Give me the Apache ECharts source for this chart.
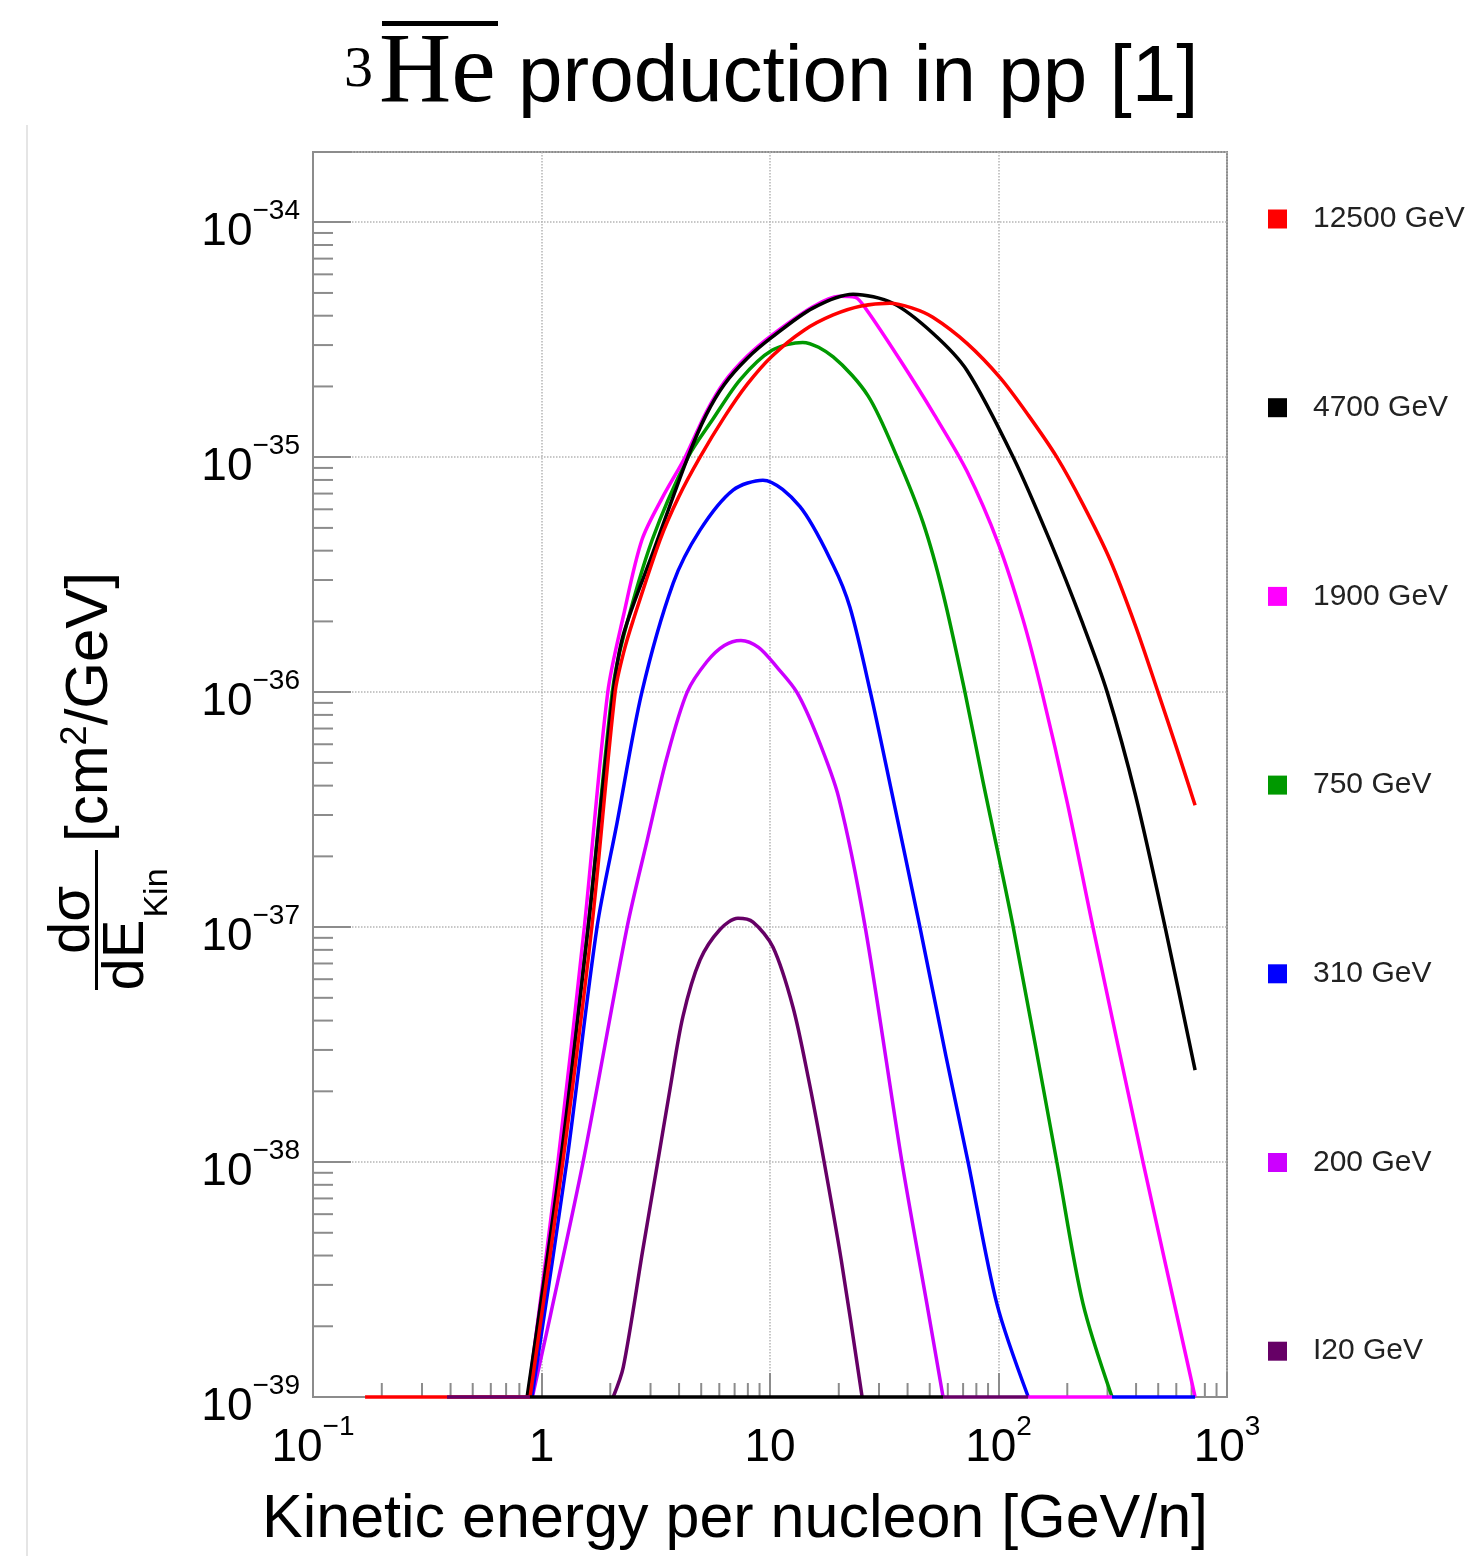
<!DOCTYPE html>
<html lang="en">
  <head>
    <meta charset="UTF-8" />
    <title>3He production in pp</title>
    <script src="https://cdn.jsdelivr.net/npm/echarts@6/dist/echarts.min.js"></script>
  </head>
  <body style="margin: 0">
    <div id="main" style="width: 1472px; height: 1556px"></div>
    <script type="text/javascript">
      // legend entries, top to bottom, and their colours
      const energies = ["12500 GeV", "4700 GeV", "1900 GeV", "750 GeV", "310 GeV", "200 GeV", "I20 GeV"];
      const colors = ["#ff0000", "#000000", "#ff00ff", "#009900", "#0000ff", "#cc00ff", "#660066"];

      // axis decades (exponents of ten)
      const xTickExps = [-1, 0, 1, 2, 3];
      const yTickExps = [-39, -38, -37, -36, -35, -34];
      const yMax = 1.99e-34;

      // [kinetic energy per nucleon (GeV/n), dσ/dE_kin (cm²/GeV)]
      const s12500 = [[0.891, 1e-39], [1.24, 1e-38], [1.66, 1e-37], [2.1, 1e-36], [2.29, 1.48e-36], [2.51, 2.0e-36], [3.3, 4.44e-36], [3.98, 6.76e-36], [4.94, 1e-35], [6.31, 1.48e-35], [7.94, 2.04e-35], [10.2, 2.69e-35], [14.1, 3.47e-35], [18.9, 4.03e-35], [25.1, 4.4e-35], [33.5, 4.52e-35], [41.7, 4.32e-35], [51.6, 3.94e-35], [72.8, 3.05e-35], [102, 2.17e-35], [135, 1.51e-35], [180, 1e-35], [234, 6.31e-36], [308, 3.65e-36], [398, 1.91e-36], [499, 1e-36], [603, 5.75e-37], [725, 3.3e-37]];
      const s4700 = [[0.865, 1e-39], [1.21, 1e-38], [1.6, 1e-37], [2.06, 1e-36], [2.29, 1.78e-36], [3.09, 3.98e-36], [4.37, 1e-35], [5.25, 1.51e-35], [6.31, 2.04e-35], [7.94, 2.63e-35], [10.2, 3.24e-35], [15.4, 4.31e-35], [23.1, 4.94e-35], [34.5, 4.52e-35], [51.6, 3.37e-35], [72.8, 2.34e-35], [116, 1e-35], [168, 4.4e-36], [234, 1.95e-36], [299, 1e-36], [398, 3.63e-37], [536, 1e-37], [725, 2.46e-38]];
      const s1900 = [[0.873, 1e-39], [1.18, 1e-38], [1.54, 1e-37], [1.95, 1e-36], [2.29, 2.14e-36], [2.75, 4.44e-36], [3.39, 6.76e-36], [4.25, 1e-35], [5.25, 1.55e-35], [6.31, 2.09e-35], [7.94, 2.69e-35], [10.2, 3.31e-35], [15.4, 4.37e-35], [20, 4.84e-35], [23.6, 4.79e-35], [26.5, 4.23e-35], [37.1, 2.59e-35], [52.5, 1.51e-35], [72.8, 8.71e-36], [100, 4.27e-36], [128, 2.04e-36], [155, 1e-36], [200, 3.39e-37], [259, 1e-37], [429, 1e-38], [725, 1e-39]];
      const s750 = [[0.873, 1e-39], [1.2, 1e-38], [1.6, 1e-37], [2.04, 1e-36], [2.29, 1.74e-36], [3.05, 4.44e-36], [4.38, 1e-35], [5.62, 1.45e-35], [7.41, 2.14e-35], [10.2, 2.85e-35], [13.9, 3.08e-35], [18.9, 2.67e-35], [26.9, 1.82e-35], [36, 1e-35], [46.8, 5.25e-36], [57.2, 2.63e-36], [71.3, 1e-36], [85.5, 4.17e-37], [116, 1e-37], [180, 1e-38], [234, 2.51e-39], [314, 1e-39]];
      const s310 = [[0.908, 1e-39], [1.29, 1e-38], [1.75, 1e-37], [2.14, 2.77e-37], [2.75, 1e-36], [3.77, 2.91e-36], [4.94, 4.89e-36], [6.89, 7.24e-36], [9.31, 7.98e-36], [13.5, 6.17e-36], [18.9, 3.47e-36], [22.4, 2.29e-36], [27.5, 1e-36], [33.5, 4.07e-37], [45.3, 1e-37], [58.9, 2.82e-38], [73.6, 1e-38], [98.4, 2.49e-39], [135, 1e-39]];
      const s200 = [[0.912, 1e-39], [1.09, 2.19e-39], [1.52, 1e-38], [2.37, 1e-37], [2.9, 2.34e-37], [3.54, 5.28e-37], [4.34, 1e-36], [5.3, 1.35e-36], [6.31, 1.58e-36], [7.46, 1.66e-36], [8.91, 1.55e-36], [10.7, 1.28e-36], [13.1, 1e-36], [16.1, 6.46e-37], [20, 3.55e-37], [26.1, 1e-37], [37.8, 1e-38], [48.6, 2.49e-39], [57.2, 1e-39]];
      const s120 = [[2.06, 1e-39], [2.28, 1.34e-39], [2.78, 4.27e-39], [3.2, 9.55e-39], [3.65, 2.04e-38], [4.16, 4.17e-38], [4.94, 7.24e-38], [6.04, 9.77e-38], [7.24, 1.09e-37], [8.43, 1.05e-37], [10.3, 8.22e-38], [12.6, 4.57e-38], [14.7, 2.29e-38], [16.9, 1.12e-38], [20.5, 3.83e-39], [25.3, 1e-39]];
      const curves = [s12500, s4700, s1900, s750, s310, s200, s120];

      // pieces of the histograms lying on the lower frame edge
      const floorRed = [[0.169, 1e-39], [0.891, 1e-39]];
      const floorPurpleLow = [[0.386, 1e-39], [0.89, 1e-39]];
      const floorBlack = [[0.89, 1e-39], [57.2, 1e-39]];
      const floorPurpleHigh = [[57.2, 1e-39], [135, 1e-39]];
      const floorMagenta = [[135, 1e-39], [314, 1e-39]];
      const floorBlue = [[314, 1e-39], [725, 1e-39]];

      // the log axis rounds tiny numbers to zero, so plot in units of 1e-36 cm²/GeV
      const unit = 1e-36;
      const unitExp = -36;
      const toUnit = (d) => d.map((p) => [p[0], p[1] / unit]);

      let myChart = echarts.init(document.getElementById("main"));

      const sans = "Liberation Sans";
      const serif = "Liberation Serif";

      function powLabel(v, shift) {
        const l = Math.log10(v);
        const e0 = Math.round(l);
        if (Math.abs(l - e0) > 0.01) return "";
        const e = e0 + shift;
        if (e === 0) return "{b|1}{s|\u200b}";
        if (e === 1) return "{b|10}{s|\u200b}";
        return "{b|10}{s|" + (e < 0 ? "\u2212" + -e : e) + "}";
      }
      const powRich = {
        b: { fontSize: 46, fontFamily: sans, color: "#000", lineHeight: 46, verticalAlign: "bottom" },
        s: { fontSize: 28, fontFamily: sans, color: "#000", lineHeight: 28, verticalAlign: "bottom", padding: [0, 0, 30, 0] },
      };

      const order = [6, 5, 4, 3, 2, 1, 0];
      let series = order.map((i) => ({
        name: energies[i],
        type: "line",
        data: toUnit(curves[i]),
        color: colors[i],
        showSymbol: false,
        symbol: "none",
        smooth: 0.3,
        clip: false,
        lineStyle: { width: 3.5, color: colors[i] },
      }));
      const floors = [
        [floorRed, "#ff0000"],
        [floorPurpleLow, "#660066"],
        [floorBlack, "#000000"],
        [floorPurpleHigh, "#660066"],
        [floorMagenta, "#ff00ff"],
        [floorBlue, "#0000ff"],
      ];
      floors.forEach(([d, c], k) => {
        series.push({
          name: "floor" + k,
          type: "line",
          data: toUnit(d),
          showSymbol: false,
          symbol: "none",
          clip: false,
          lineStyle: { width: 3.5, color: c },
        });
      });

      let options = {
        animation: false,
        backgroundColor: "#fff",
        grid: { left: 313, top: 152, width: 914, height: 1245, show: true, borderColor: "#8c8c8c", borderWidth: 2 },
        legend: {
          data: energies,
          orient: "vertical",
          left: 1268,
          top: 204,
          padding: 0,
          itemWidth: 19,
          itemHeight: 19,
          itemGap: 158.7,
          icon: "rect",
          selectedMode: false,
          textStyle: { fontSize: 30, fontFamily: sans, color: "#222", padding: [0, 0, 0, 21] },
        },
        xAxis: {
          type: "log",
          logBase: 10,
          min: Math.pow(10, xTickExps[0]),
          max: Math.pow(10, xTickExps[xTickExps.length - 1]),
          axisLine: { lineStyle: { color: "#8c8c8c", width: 2 } },
          axisTick: { inside: true, length: 24, lineStyle: { color: "#8c8c8c", width: 2 } },
          splitLine: { show: true, lineStyle: { type: "dotted", color: "#b5b5b5", width: 1.5 } },
          axisLabel: { formatter: (v) => powLabel(v, 0), rich: powRich, margin: 28, showMinLabel: true, showMaxLabel: true },
        },
        yAxis: {
          type: "log",
          logBase: 10,
          min: Math.pow(10, yTickExps[0] - unitExp),
          max: yMax / unit,
          axisLine: { lineStyle: { color: "#8c8c8c", width: 2 } },
          axisTick: { inside: true, length: 38, lineStyle: { color: "#8c8c8c", width: 2 } },
          splitLine: { show: true, lineStyle: { type: "dotted", color: "#b5b5b5", width: 1.5 } },
          axisLabel: { formatter: (v) => powLabel(v, unitExp), rich: powRich, margin: 13, padding: [20, 0, 0, 0] },
        },
        series: series,
      };

      myChart.setOption(options);

      // title, axis titles and a faint page edge
      const staticGraphics = [
        { type: "line", shape: { x1: 27, y1: 125, x2: 27, y2: 1556 }, style: { stroke: "#dcdcdc", lineWidth: 1.5 } },
        { type: "text", x: 344, y: 71, style: { text: "3", fontSize: 58, fontFamily: serif, fill: "#000", verticalAlign: "middle" } },
        { type: "text", x: 379, y: 75, style: { text: "He", fontSize: 100, fontFamily: serif, fill: "#000", verticalAlign: "middle" } },
        { type: "rect", shape: { x: 382, y: 21, width: 116, height: 5 }, style: { fill: "#000" } },
        { type: "text", x: 518, y: 79, style: { text: "production in pp [1]", fontSize: 80, fontFamily: sans, fill: "#000", verticalAlign: "middle" } },
        { type: "text", x: 262, y: 1520, style: { text: "Kinetic energy per nucleon [GeV/n]", fontSize: 61, fontFamily: sans, fill: "#000", verticalAlign: "middle" } },
        { type: "text", x: 73, y: 920, rotation: Math.PI / 2, style: { text: "d\u03c3", fontSize: 58, fontFamily: sans, fill: "#000", align: "center", verticalAlign: "middle" } },
        { type: "rect", shape: { x: 95, y: 850, width: 3, height: 140 }, style: { fill: "#000" } },
        { type: "text", x: 127, y: 955, rotation: Math.PI / 2, style: { text: "dE", fontSize: 58, fontFamily: sans, fill: "#000", align: "center", verticalAlign: "middle" } },
        { type: "text", x: 158, y: 893, rotation: Math.PI / 2, style: { text: "Kin", fontSize: 34, fontFamily: sans, fill: "#000", align: "center", verticalAlign: "middle" } },
        {
          type: "text",
          x: 90,
          y: 707,
          rotation: Math.PI / 2,
          style: {
            text: "{t|[cm}{u|2}{t|/GeV]}",
            align: "center",
            verticalAlign: "middle",
            rich: {
              t: { fontSize: 60, fontFamily: sans, fill: "#000", lineHeight: 60, verticalAlign: "bottom" },
              u: { fontSize: 36, fontFamily: sans, fill: "#000", lineHeight: 36, verticalAlign: "bottom", padding: [0, 0, 26, 0] },
            },
          },
        },
      ];

      // ROOT-style minor ticks at 2..9 of each decade
      const minor = [];
      const corner = myChart.convertToPixel({ gridIndex: 0 }, [Math.pow(10, xTickExps[0]), Math.pow(10, yTickExps[0] - unitExp)]);
      yTickExps.forEach((e) => {
        for (let k = 2; k <= 9; k++) {
          const v = k * Math.pow(10, e - unitExp);
          if (v > yMax / unit) break;
          const py = myChart.convertToPixel({ gridIndex: 0 }, [1, v])[1];
          minor.push({ type: "line", shape: { x1: corner[0], y1: py, x2: corner[0] + 20, y2: py }, style: { stroke: "#8c8c8c", lineWidth: 2 } });
        }
      });
      xTickExps.slice(0, -1).forEach((e) => {
        for (let k = 2; k <= 9; k++) {
          const px = myChart.convertToPixel({ gridIndex: 0 }, [k * Math.pow(10, e), 1])[0];
          minor.push({ type: "line", shape: { x1: px, y1: corner[1], x2: px, y2: corner[1] - 14 }, style: { stroke: "#8c8c8c", lineWidth: 2 } });
        }
      });

      myChart.setOption({ graphic: staticGraphics.concat(minor) });
    </script>
  </body>
</html>
